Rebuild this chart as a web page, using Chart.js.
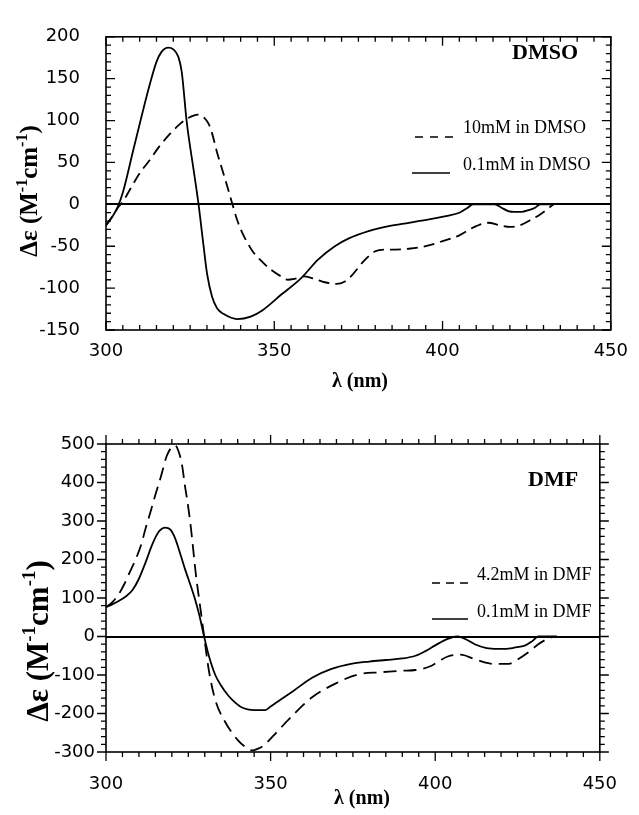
<!DOCTYPE html>
<html>
<head>
<meta charset="utf-8">
<script src="https://cdn.jsdelivr.net/npm/chart.js@4.4.0/dist/chart.umd.min.js"></script>
<style>
  html, body { margin: 0; padding: 0; background: #fff; }
  #wrap { position: relative; width: 639px; height: 815px; overflow: hidden; }
  canvas { position: absolute; left: 0; }
</style>
</head>
<body>
<div id="wrap">
  <canvas id="c1" width="639" height="400" style="top:0"></canvas>
  <canvas id="c2" width="639" height="415" style="top:400px"></canvas>
</div>
<script>
// ---------------- DATA ----------------
// Top panel: DMSO
const dmsoTitle = 'DMSO';
const dmsoLabels = ['10mM in DMSO', '0.1mM in DMSO'];
const dmsoXTicks = [300, 350, 400, 450];
const dmsoYTicks = [-150, -100, -50, 0, 50, 100, 150, 200];

// 0.1mM in DMSO (solid)
const dmsoDiluteWl = [300, 302, 303.5, 305, 308, 311, 313, 315, 316.5, 318.5, 320, 321.5, 322.5, 324, 326, 327.5, 329, 330, 331.5, 333, 335, 339, 343, 346.3, 352, 358, 363, 368, 372, 378, 384, 390, 396, 401, 405, 407.5, 409, 412, 415.5, 417.5, 419.5, 421.5, 423.5, 425.5, 427.5, 429, 433];
const dmsoDiluteDe = [-25, -14, -3, 14, 63, 112, 143, 170, 182, 187, 185, 176, 158, 98, 42, 0, -50, -82, -110, -124, -131, -137, -134, -127, -108, -88, -66, -50, -41, -32, -26, -22, -18, -14, -10, -4, 0, 0, 0, -4, -8, -9, -9, -7, -4, 0, 0];

// 10mM in DMSO (dashed)
const dmsoConcWl = [300, 302, 303.5, 305, 307.3, 310, 313, 316, 319, 322, 324, 326, 327.5, 329, 330.5, 331.5, 333, 334.5, 336, 337.5, 339, 340.5, 343.4, 346, 349, 352, 354, 356, 359, 362, 365, 368.5, 371, 373, 376.5, 380, 383, 386, 390, 395, 400, 405, 408, 410, 413.5, 417, 420, 423, 426, 429, 433];
const dmsoConcDe = [-25, -14, -4, 3, 19, 37, 53, 70, 84, 96, 102, 106, 107, 104, 96, 85, 62, 42, 22, 1, -19, -34, -55, -67, -78, -86, -90, -89, -86, -89, -93, -95, -92, -85, -68, -56, -54, -54, -53, -50, -44, -37, -30, -26, -22, -25, -27, -25, -19, -12, 0];

// Bottom panel: DMF
const dmfTitle = 'DMF';
const dmfLabels = ['4.2mM in DMF', '0.1mM in DMF'];
const dmfXTicks = [300, 350, 400, 450];
const dmfYTicks = [-300, -200, -100, 0, 100, 200, 300, 400, 500];

// 0.1mM in DMF (solid)
const dmfDiluteWl = [300, 302, 304, 306, 308, 310, 312, 314, 316, 318, 319.5, 321, 322, 324, 325, 327, 328.3, 329.8, 331.3, 333.2, 335, 337, 339, 341, 343, 345, 348.4, 350, 352, 356.8, 362.6, 368.5, 374.4, 380, 385, 390, 394, 397, 400, 403.8, 406.8, 409.7, 412, 415.6, 419, 421.5, 424, 427.4, 429.5, 431.3, 437];
const dmfDiluteDe = [76, 84, 93, 104, 120, 150, 192, 238, 272, 283, 278, 255, 230, 175, 150, 98, 57, 0, -52, -100, -128, -152, -170, -183, -189, -191, -191, -182, -170, -142, -107, -84, -71, -65, -61, -57, -50, -38, -23, -6, 0, -9, -20, -30, -32, -32, -29, -23, -12, 0, 0];

// 4.2mM in DMF (dashed)
const dmfConcWl = [300, 302, 303.8, 305.5, 307, 309, 310.7, 312, 313.6, 315, 316.6, 318.5, 320, 321, 322.3, 323.2, 323.9, 325, 325.9, 327.3, 328.8, 329.8, 331.3, 333.2, 336.2, 340.1, 342.5, 344.5, 346, 347.9, 351.9, 356.8, 362.6, 369.5, 376.4, 383.2, 390, 394, 398.9, 401.5, 403.8, 407.7, 411.7, 415, 417.5, 422.4, 425, 428.3, 431, 433.2, 436.1];
const dmfConcDe = [76, 90, 109, 135, 163, 200, 239, 280, 326, 368, 413, 470, 492, 496, 474, 440, 396, 335, 274, 161, 65, 0, -91, -165, -222, -270, -288, -296, -292, -283, -248, -204, -158, -123, -99, -93, -89, -87, -76, -62, -52, -47, -58, -67, -71, -71, -60, -41, -22, -10, 0];

// ---------------- HELPERS ----------------
const pts = (xs, ys) => xs.map((x, i) => ({ x: x, y: ys[i] }));
const TICK_FONT = { family: 'DejaVu Sans', size: 18 };
const SERIF = '"Liberation Serif", "DejaVu Serif", serif';

function drawRich(ctx, runs, baseSize) {
  // runs: [{t, sup}] ; draws centred at 0,0 with baseline middle
  ctx.textAlign = 'left';
  let total = 0;
  const supSize = Math.round(baseSize * 0.62);
  const widths = runs.map(r => {
    ctx.font = 'bold ' + (r.sup ? supSize : baseSize) + 'px ' + SERIF;
    const w = ctx.measureText(r.t).width;
    total += w;
    return w;
  });
  let x = -total / 2;
  runs.forEach((r, i) => {
    ctx.font = 'bold ' + (r.sup ? supSize : baseSize) + 'px ' + SERIF;
    ctx.fillText(r.t, x, r.sup ? -baseSize * 0.33 : 0);
    x += widths[i];
  });
}

function makeFramePlugin(o) {
  return {
    id: 'frame_' + o.id,
    afterDatasetsDraw(chart) {
      const ctx = chart.ctx;
      const a = chart.chartArea;
      const xs = chart.scales.x, ys = chart.scales.y;
      ctx.save();
      ctx.strokeStyle = '#000';
      ctx.fillStyle = '#000';
      ctx.lineWidth = 1.6;
      ctx.setLineDash([]);
      ctx.strokeRect(a.left, a.top, a.right - a.left, a.bottom - a.top);
      ctx.lineWidth = 1.3;
      const dir = o.inward ? 1 : -1;
      // x minor / major ticks
      for (let v = xs.min; v <= xs.max + 1e-6; v += o.xMinor) {
        const px = xs.getPixelForValue(v);
        const major = Math.abs(v % o.xMajor) < 1e-6;
        const L = major ? o.major : o.minor;
        ctx.beginPath();
        ctx.moveTo(px, a.bottom); ctx.lineTo(px, a.bottom - dir * L);
        ctx.moveTo(px, a.top); ctx.lineTo(px, a.top + dir * L);
        ctx.stroke();
      }
      for (let v = ys.min; v <= ys.max + 1e-6; v += o.yMinor) {
        const py = ys.getPixelForValue(v);
        const major = Math.abs(v % o.yMajor) < 1e-6;
        const L = major ? o.major : o.minor;
        ctx.beginPath();
        ctx.moveTo(a.left, py); ctx.lineTo(a.left + dir * L, py);
        ctx.moveTo(a.right, py); ctx.lineTo(a.right - dir * L, py);
        ctx.stroke();
      }
      // axis titles
      ctx.textAlign = 'center';
      ctx.textBaseline = 'middle';
      ctx.font = 'bold 20px ' + SERIF;
      ctx.fillText('\u03bb (nm)', o.xTitle[0], o.xTitle[1]);
      ctx.save();
      ctx.translate(o.yTitle[0], o.yTitle[1]);
      ctx.rotate(-Math.PI / 2);
      drawRich(ctx, [{ t: '\u0394\u03b5 (M', sup: false }, { t: '-1', sup: true }, { t: 'cm', sup: false }, { t: '-1', sup: true }, { t: ')', sup: false }], o.yTitleSize);
      ctx.restore();
      // panel label
      ctx.textAlign = 'left';
      ctx.font = 'bold 22px ' + SERIF;
      ctx.fillText(o.panel, o.panelPos[0], o.panelPos[1]);
      // legend
      ctx.font = '18px ' + SERIF;
      o.legend.forEach(l => {
        ctx.beginPath();
        ctx.lineWidth = 1.6;
        ctx.setLineDash(l.dash);
        ctx.moveTo(l.x0, l.ly); ctx.lineTo(l.x1, l.ly);
        ctx.stroke();
        ctx.setLineDash([]);
        ctx.fillText(l.text, l.tx, l.ty);
      });
      ctx.restore();
    }
  };
}

function makeChart(id, o) {
  return new Chart(document.getElementById(id), {
    type: 'line',
    data: {
      datasets: [
        { label: o.labels[0], data: o.conc, borderColor: '#000', borderWidth: 1.8, borderDash: o.dash, pointRadius: 0, cubicInterpolationMode: 'monotone', fill: false },
        { label: o.labels[1], data: o.dilute, borderColor: '#000', borderWidth: 1.8, pointRadius: 0, cubicInterpolationMode: 'monotone', fill: false }
      ]
    },
    options: {
      responsive: false,
      animation: false,
      devicePixelRatio: 1,
      layout: { padding: o.padding },
      plugins: { legend: { display: false }, tooltip: { enabled: false } },
      scales: {
        x: {
          type: 'linear', min: o.xMin, max: o.xMax,
          afterBuildTicks: s => { s.ticks = o.xTicks.map(v => ({ value: v })); },
          afterFit: s => { s.height = o.xAxisH; },
          ticks: { font: TICK_FONT, color: '#000', padding: o.xPad, maxRotation: 0, autoSkip: false },
          grid: { display: false, drawTicks: false },
          border: { display: false }
        },
        y: {
          min: o.yMin, max: o.yMax,
          afterBuildTicks: s => { s.ticks = o.yTicks.map(v => ({ value: v })); },
          afterFit: s => { s.width = o.yAxisW; },
          ticks: { font: TICK_FONT, color: '#000', padding: o.yPad, autoSkip: false },
          grid: { drawTicks: false, lineWidth: 2, color: c => (c.tick && c.tick.value === 0) ? '#000' : 'rgba(0,0,0,0)' },
          border: { display: false }
        }
      }
    },
    plugins: [makeFramePlugin(o.frame)]
  });
}

makeChart('c1', {
  labels: dmsoLabels,
  conc: pts(dmsoConcWl, dmsoConcDe),
  dilute: pts(dmsoDiluteWl, dmsoDiluteDe),
  dash: [11, 6],
  padding: { left: 0, right: 21, top: 18, bottom: 0 },
  xMin: 300, xMax: 450, yMin: -150, yMax: 200,
  xTicks: dmsoXTicks, yTicks: dmsoYTicks,
  xAxisH: 70, yAxisW: 106, xPad: 11, yPad: 26,
  frame: {
    id: 'top', inward: true, xMinor: 5, xMajor: 50, yMinor: 10, yMajor: 50, minor: 5, major: 9,
    xTitle: [360, 382], yTitle: [31, 191], yTitleSize: 25,
    panel: dmsoTitle, panelPos: [512, 53],
    legend: [
      { text: dmsoLabels[0], dash: [8, 7], x0: 415, x1: 453, ly: 137, tx: 463, ty: 128 },
      { text: dmsoLabels[1], dash: [], x0: 412, x1: 450, ly: 173, tx: 463, ty: 165 }
    ]
  }
});

makeChart('c2', {
  labels: dmfLabels,
  conc: pts(dmfConcWl, dmfConcDe),
  dilute: pts(dmfDiluteWl, dmfDiluteDe),
  dash: [13, 7],
  padding: { left: 0, right: 22, top: 44, bottom: 0 },
  xMin: 300, xMax: 450, yMin: -300, yMax: 500,
  xTicks: dmfXTicks, yTicks: dmfYTicks,
  xAxisH: 63, yAxisW: 106, xPad: 22, yPad: 11,
  frame: {
    id: 'bottom', inward: false, xMinor: 5, xMajor: 50, yMinor: 20, yMajor: 100, minor: 5, major: 9,
    xTitle: [362, 399], yTitle: [40, 241], yTitleSize: 31,
    panel: dmfTitle, panelPos: [528, 80],
    legend: [
      { text: dmfLabels[0], dash: [8, 6], x0: 432, x1: 468, ly: 183, tx: 477, ty: 175 },
      { text: dmfLabels[1], dash: [], x0: 432, x1: 468, ly: 219, tx: 477, ty: 212 }
    ]
  }
});
</script>
</body>
</html>
